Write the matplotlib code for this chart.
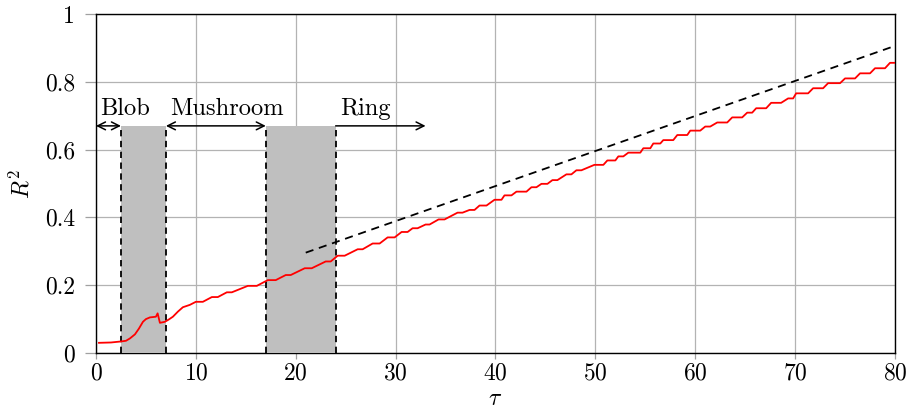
import numpy as np
import matplotlib.pyplot as plt

plt.rcParams['font.family'] = 'serif'
plt.rcParams['font.serif'] = ['cmr10']
plt.rcParams['mathtext.fontset'] = 'cm'
plt.rcParams['axes.formatter.use_mathtext'] = True

# R^2 during the early (blob) phase, before the stepwise growth sets in
tau_early = [0.3, 1.5, 2.5, 3.0, 3.4, 3.9, 4.3, 4.7, 5.0, 5.4, 6.0, 6.17, 6.4, 6.9,
             7.3, 7.7, 8.2, 8.7, 9.4]
r2_early = [0.030, 0.031, 0.034, 0.036, 0.043, 0.055, 0.072, 0.092, 0.100, 0.105,
            0.107, 0.117, 0.089, 0.092, 0.099, 0.107, 0.122, 0.135, 0.142]

# plateaus of the stepwise growth: start, end and level of each flat part
step_start = [10.0, 11.6, 13.1, 15.2, 17.2, 19.0, 20.9, 23.0, 24.2, 26.2, 27.7, 29.2,
              30.6, 31.7, 33.0, 34.3, 36.2, 37.4, 38.4, 39.9, 40.9, 42.1, 43.6, 44.6,
              45.7, 47.1, 48.1, 49.9, 51.2, 52.3, 53.3, 54.8, 55.8, 56.8, 58.2, 59.5,
              61.0, 62.2, 63.7, 65.2, 66.1, 67.6, 69.3, 70.1, 71.8, 73.3, 75.0, 76.5,
              78.0, 79.5]
step_end = [10.7, 12.2, 13.6, 16.1, 18.0, 19.5, 21.6, 23.5, 24.9, 26.7, 28.4, 29.9,
            31.2, 32.2, 33.4, 34.9, 36.7, 37.9, 39.1, 40.6, 41.6, 43.1, 44.1, 45.2,
            46.2, 47.6, 48.6, 50.8, 52.0, 52.8, 54.5, 55.5, 56.5, 57.8, 59.2, 60.5,
            61.5, 63.2, 64.7, 65.7, 67.1, 68.6, 69.8, 71.3, 72.8, 74.5, 76.0, 77.5,
            79.0, 80.0]
step_level = [0.151, 0.165, 0.179, 0.198, 0.215, 0.230, 0.250, 0.270, 0.287, 0.306,
              0.323, 0.341, 0.357, 0.368, 0.379, 0.394, 0.414, 0.422, 0.435, 0.452,
              0.465, 0.476, 0.489, 0.499, 0.510, 0.527, 0.539, 0.555, 0.568, 0.580,
              0.591, 0.604, 0.618, 0.628, 0.643, 0.656, 0.668, 0.680, 0.695, 0.709,
              0.722, 0.738, 0.751, 0.766, 0.781, 0.796, 0.810, 0.825, 0.840, 0.856]

# linear reference growth
tau_fit = [21.0, 80.0]
r2_fit = [0.296, 0.906]

# regime boundaries (shaded = transitions)
transitions = [(2.5, 7.0), (17.0, 24.0)]
regimes = [('Blob', 0.0, 2.5, '<->'), ('Mushroom', 7.0, 17.0, '<->'), ('Ring', 24.0, 33.0, '->')]
marker_height = 0.67

# assemble the red curve
tau = list(tau_early)
r2 = list(r2_early)
for s, e, lv in zip(step_start, step_end, step_level):
    tau += [s, e]
    r2 += [lv, lv]

fig = plt.figure(figsize=(9.09, 4.17), dpi=100)
ax = fig.add_axes([0.1056, 0.1535, 0.879, 0.8129])

fs = 17
for x0, x1 in transitions:
    ax.fill_between([x0, x1], 0, marker_height, color='#bfbfbf', lw=0, zorder=3)
for x0, x1 in transitions:
    for xv in (x0, x1):
        ax.plot([xv, xv], [0, marker_height], color='black', lw=1.3,
                linestyle=(0, (3.5, 2.5)), zorder=4, clip_on=False)

for name, x0, x1, style in regimes:
    ax.annotate('', xy=(x1, marker_height), xytext=(x0, marker_height),
                arrowprops=dict(arrowstyle=style, color='black', lw=1.1,
                                shrinkA=0, shrinkB=0, mutation_scale=14), zorder=5)
    ax.text(x0 + 0.4, marker_height + 0.032, name, fontsize=17.6, ha='left',
            va='baseline', zorder=5)

ax.plot(tau, r2, color='red', lw=1.3, zorder=6)
ax.plot(tau_fit, r2_fit, color='black', lw=1.3, linestyle=(0, (4.5, 3.2)), zorder=6)

ax.set_xlim(0, 80)
ax.set_ylim(0, 1)
ax.set_xticks(np.arange(0, 81, 10))
ax.set_yticks([0, 0.2, 0.4, 0.6, 0.8, 1])
ax.set_yticklabels(['0', '0.2', '0.4', '0.6', '0.8', '1'])
ax.grid(True, color='#b3b3b3', lw=0.9)
ax.set_axisbelow(True)
ax.tick_params(axis='y', direction='out', length=8, width=0.9, color='#a0a0a0',
               pad=7, labelsize=fs)
ax.tick_params(axis='x', direction='out', length=4, width=0.9, color='#a0a0a0',
               pad=3, labelsize=fs)
for sp in ax.spines.values():
    sp.set_linewidth(1.0)

ax.set_xlabel(r'$\tau$', fontsize=fs, labelpad=2)
ax.set_ylabel(r'$R^2$', fontsize=fs, labelpad=8)

fig.savefig('out.png', dpi=100)
